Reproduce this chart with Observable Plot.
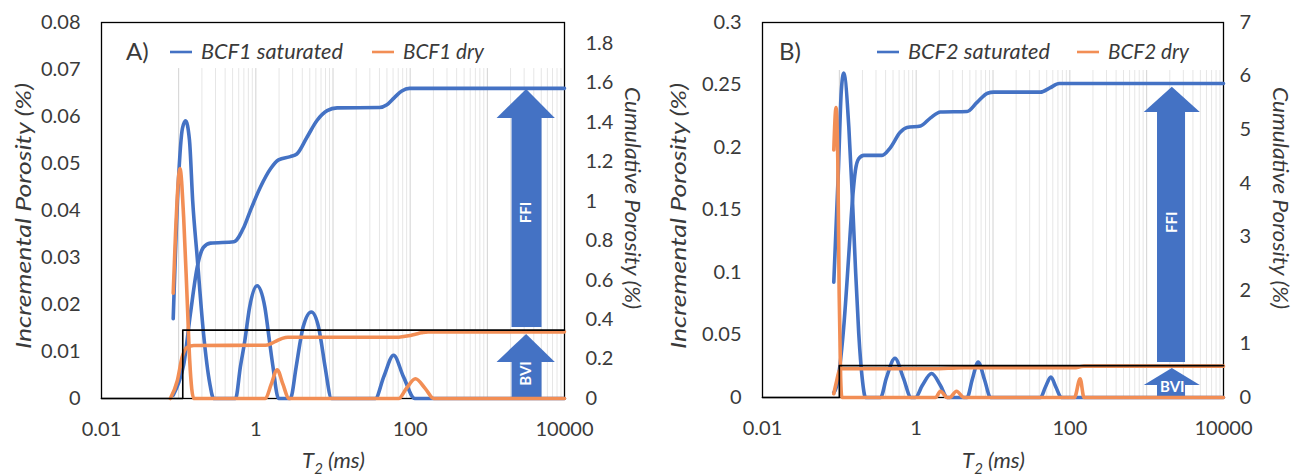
<!DOCTYPE html>
<html><head><meta charset="utf-8">
<script src="https://cdn.jsdelivr.net/npm/d3@7"></script>
<script src="https://cdn.jsdelivr.net/npm/@observablehq/plot@0.6"></script>
<style>
body{margin:0;background:#fff;}
#wrap{display:flex;width:1303px;height:476px;overflow:hidden;}
</style>
</head><body><div id="wrap"></div>
<script>
// ---------- shared ----------
const X_TICKS = [0.01, 1, 100, 10000];
const GRID_DECADES = [0.1, 1, 10, 100, 1000];
const GRID_MULT = [1, 2, 3, 4, 5, 6, 7, 8, 9];
const BLUE = "#4472C4";
const ORANGE = "#F28E55";

// ---------- Panel A (BCF1) ----------
const A_leftTicks  = [0, 0.01, 0.02, 0.03, 0.04, 0.05, 0.06, 0.07, 0.08];
const A_rightTicks = [0, 0.2, 0.4, 0.6, 0.8, 1, 1.2, 1.4, 1.6, 1.8];
const A_satInc_t = [0.085, 0.099, 0.112, 0.123, 0.138, 0.152, 0.174, 0.21, 0.253, 0.284, 0.546, 0.63, 0.72, 0.83, 1.04, 1.31, 1.5, 1.67, 1.97, 2.8, 3.33, 3.78, 4.1, 5.24, 6.5, 7.0, 7.9, 9.6, 35.4, 45.4, 61, 82, 115, 10000];
const A_satInc_v = [0.017, 0.046, 0.0575, 0.0591, 0.055, 0.042, 0.030, 0.0138, 0.0032, 0, 0, 0.0067, 0.0123, 0.0194, 0.024, 0.0194, 0.0123, 0.0067, 0, 0, 0.0067, 0.0123, 0.0152, 0.0184, 0.0152, 0.0123, 0.0067, 0, 0, 0.0046, 0.0092, 0.0046, 0, 0];
const A_dryInc_t = [0.085, 0.091, 0.104, 0.116, 0.129, 0.139, 0.157, 1.33, 1.58, 1.89, 2.25, 2.67, 71, 89, 117, 157, 202, 10000];
const A_dryInc_v = [0.0224, 0.035, 0.0489, 0.0386, 0.0209, 0.0081, 0, 0, 0.003, 0.0061, 0.003, 0, 0, 0.0021, 0.0042, 0.0021, 0, 0];
const A_satCum_t = [0.085, 0.1, 0.116, 0.142, 0.174, 0.21, 0.258, 0.52, 0.70, 0.85, 1.14, 1.55, 1.97, 2.8, 3.4, 4.6, 6.2, 8.4, 11.3, 40, 50, 62, 78, 98, 10000];
const A_satCum_c = [0.017, 0.08, 0.17, 0.43, 0.666, 0.767, 0.788, 0.795, 0.869, 0.953, 1.07, 1.165, 1.21, 1.227, 1.24, 1.325, 1.41, 1.46, 1.474, 1.476, 1.49, 1.525, 1.56, 1.573, 1.573];
const A_dryCum_t = [0.078, 0.096, 0.111, 0.129, 0.157, 1.33, 1.6, 1.89, 2.2, 2.6, 71, 95, 117, 140, 170, 10000];
const A_dryCum_c = [0, 0.09, 0.21, 0.26, 0.269, 0.27, 0.28, 0.294, 0.305, 0.311, 0.311, 0.318, 0.326, 0.333, 0.338, 0.338];
const A_bvi_t = [0.01, 0.113, 0.113, 10000];
const A_bvi_c = [0, 0, 0.347, 0.347];
// arrow annotations (T positions, cumulative-axis values)
const A_arrowT = {shaft: [2090, 5115], head: [1336, 7600], center: 3230};
const A_ffi = {bottom: 0.36, base: 1.42, tip: 1.567, label: 0.943};
const A_bvi = {bottom: 0, base: 0.183, tip: 0.325, label: 0.127};

// ---------- Panel B (BCF2) ----------
const B_leftTicks  = [0, 0.05, 0.1, 0.15, 0.2, 0.25, 0.3];
const B_rightTicks = [0, 1, 2, 3, 4, 5, 6, 7];
const B_satInc_t = [0.0847, 0.097, 0.106, 0.114, 0.133, 0.147, 0.162, 0.179, 0.198, 0.22, 0.344, 0.41, 0.53, 0.68, 0.86, 0.98, 1.2, 1.59, 2.07, 2.54, 4.6, 5.36, 6.41, 7.76, 9.3, 41.5, 48, 56.7, 66, 77.5, 10000];
const B_satInc_v = [0.0922, 0.18, 0.245, 0.2595, 0.216, 0.163, 0.104, 0.051, 0.016, 0, 0, 0.0157, 0.0314, 0.0157, 0, 0, 0.0096, 0.0192, 0.0096, 0, 0, 0.0142, 0.0283, 0.0142, 0, 0, 0.0082, 0.0163, 0.0082, 0, 0];
const B_dryInc_t = [0.0847, 0.0906, 0.0955, 0.0995, 0.104, 0.108, 1.79, 2.07, 2.54, 2.73, 3.35, 4.18, 115, 136, 153, 10000];
const B_dryInc_v = [0.198, 0.232, 0.19, 0.083, 0.016, 0, 0, 0.005, 0, 0, 0.005, 0, 0, 0.015, 0, 0];
const B_satCum_t = [0.0847, 0.0918, 0.114, 0.133, 0.147, 0.162, 0.179, 0.208, 0.36, 0.46, 0.62, 0.76, 1.14, 1.54, 2.07, 4.6, 6.2, 8.5, 10.2, 41.5, 55, 72.8, 10000];
const B_satCum_c = [0.09, 0.2, 1.31, 2.68, 3.62, 4.24, 4.46, 4.52, 4.52, 4.66, 4.95, 5.04, 5.07, 5.22, 5.33, 5.34, 5.51, 5.68, 5.70, 5.70, 5.78, 5.86, 5.86];
const B_dryCum_t = [0.0847, 0.092, 0.1, 0.108, 1.79, 2.6, 4.2, 115, 136, 153, 10000];
const B_dryCum_c = [0.07, 0.3, 0.5, 0.536, 0.536, 0.545, 0.555, 0.555, 0.575, 0.585, 0.585];
const B_bvi_t = [0.01, 0.1, 0.1, 10000];
const B_bvi_c = [0, 0, 0.595, 0.595];
const B_arrowT = {shaft: [1384, 3206], head: [931, 4990], center: 2157};
const B_ffi = {bottom: 0.653, base: 5.32, tip: 5.79, label: 3.27};
const B_bvi = {bottom: 0, base: 0.224, tip: 0.541, label: 0.187};

const FONT = "Lato, 'Open Sans', sans-serif";
const TXT = "#3a3a3a";

function rows(t, v, k = 1) { return t.map((d, i) => ({t: d, v: v[i] * k})); }
function fmt(d) { return String(+d.toFixed(3)); }

function panel(cfg) {
  const k = cfg.leftMax / cfg.rightMax;
  const grid = [];
  for (const dec of GRID_DECADES) for (const m of GRID_MULT) grid.push(m * dec);
  const head = (a, ann) => [
    {t: a.head[0], b: ann.base * k, v: ann.base * k},
    {t: a.center, b: ann.base * k, v: ann.tip * k},
    {t: a.head[1], b: ann.base * k, v: ann.base * k}
  ];
  const arrowMarks = (a, ann) => [
    Plot.rect([{x1: a.shaft[0], x2: a.shaft[1], y1: ann.bottom * k, y2: ann.base * k + 0.0001}],
      {x1: "x1", x2: "x2", y1: "y1", y2: "y2", fill: BLUE}),
    Plot.areaY(head(a, ann), {x: "t", y1: "b", y2: "v", fill: BLUE, curve: "linear"})
  ];
  const labelRow = (ann, txt) => [{t: cfg.arrowT.center, v: ann.label * k, s: txt}];
  const svg = Plot.plot({
    width: cfg.width, height: 476,
    marginLeft: cfg.ml, marginRight: cfg.mr, marginTop: 22, marginBottom: cfg.mb,
    style: {fontFamily: FONT, fontSize: "20px", color: TXT, background: "white", overflow: "visible"},
    x: {type: "log", domain: [0.01, 10000]},
    y: {domain: [0, cfg.leftMax]},
    marks: [
      Plot.ruleX(grid.filter(g => !GRID_DECADES.includes(g)), {x: d => d, y1: () => 0, y2: () => cfg.gridTop, stroke: "#e6e6e6", strokeWidth: 1}),
      Plot.ruleX(grid.filter(g => GRID_DECADES.includes(g)), {x: d => d, y1: () => 0, y2: () => cfg.gridTop, stroke: "#d2d2d2", strokeWidth: 1}),
      Plot.frame({stroke: "black", strokeWidth: 1.3}),
      ...arrowMarks(cfg.arrowT, cfg.ffi),
      ...arrowMarks(cfg.arrowT, cfg.bvi),
      Plot.line(rows(cfg.satInc_t, cfg.satInc_v), {x: "t", y: "v", stroke: BLUE, strokeWidth: 3.6, curve: "monotone-x"}),
      Plot.line(rows(cfg.satCum_t, cfg.satCum_c, k), {x: "t", y: "v", stroke: BLUE, strokeWidth: 3.6, curve: "monotone-x"}),
      Plot.line(rows(cfg.dryInc_t, cfg.dryInc_v), {x: "t", y: "v", stroke: ORANGE, strokeWidth: 3.6, curve: "monotone-x"}),
      Plot.line(rows(cfg.dryCum_t, cfg.dryCum_c, k), {x: "t", y: "v", stroke: ORANGE, strokeWidth: 3.6, curve: "monotone-x"}),
      Plot.line(rows(cfg.bvi_t, cfg.bvi_c, k), {x: "t", y: "v", stroke: "black", strokeWidth: 1.6, curve: "linear"}),
      Plot.axisX({ticks: X_TICKS, tickFormat: d => String(d), tickSize: 0, tickPadding: 23, label: null}),
      Plot.axisY({anchor: "left", ticks: cfg.leftTicks, tickFormat: fmt, tickSize: 0, tickPadding: 21, label: null}),
      Plot.axisY({anchor: "right", ticks: cfg.rightTicks.map(c => c * k), tickFormat: d => fmt(d / k), tickSize: 0, tickPadding: cfg.rpad, label: null}),
      Plot.text(labelRow(cfg.ffi, "FFI"), {x: "t", y: "v", text: "s", rotate: -90, fill: "white", fontWeight: "bold", fontSize: 15, fontFamily: FONT}),
      Plot.text(labelRow(cfg.bvi, "BVI"), {x: "t", y: "v", text: "s", rotate: cfg.bviRotate, fill: "white", fontWeight: "bold", fontSize: 15, fontFamily: FONT})
    ]
  });
  // legend, axis titles
  const s = d3.select(svg);
  const g = s.append("g").attr("font-family", FONT).attr("fill", TXT).attr("text-anchor", "start");
  g.append("text").attr("x", cfg.leg.tag).attr("y", 52).attr("dy", "0.35em").attr("font-size", 24).text(cfg.tag);
  const items = [
    {c: BLUE, x: cfg.leg.sw1, label: cfg.names[0], len: cfg.leg.len1},
    {c: ORANGE, x: cfg.leg.sw2, label: cfg.names[1], len: cfg.leg.len2}
  ];
  for (const it of items) {
    g.append("line").attr("x1", it.x).attr("x2", it.x + 22).attr("y1", 52).attr("y2", 52)
      .attr("stroke", it.c).attr("stroke-width", 2.6);
    g.append("text").attr("x", it.x + 31).attr("y", 52).attr("dy", "0.35em")
      .attr("font-size", 21).attr("font-style", "italic")
      .attr("textLength", it.len).attr("lengthAdjust", "spacingAndGlyphs").text(it.label);
  }
  const title = (x, y, rot, len, label) => g.append("text")
    .attr("transform", `translate(${x},${y}) rotate(${rot})`)
    .attr("text-anchor", "middle").attr("dy", "0.35em")
    .attr("font-size", 22).attr("font-style", "italic")
    .attr("textLength", len).attr("lengthAdjust", "spacingAndGlyphs").text(label);
  title(cfg.lt.x, 216, -90, 266, "Incremental Porosity (%)");
  title(cfg.rt.x, 198, 90, 222, "Cumulative Porosity (%)");
  const xt = g.append("text").attr("x", (cfg.ml + cfg.width - cfg.mr) / 2 + 1).attr("y", 460).attr("dy", "0.35em")
    .attr("text-anchor", "middle").attr("font-size", 22).attr("font-style", "italic");
  xt.append("tspan").text("T");
  xt.append("tspan").attr("font-size", 15).attr("dy", 6).text("2");
  xt.append("tspan").attr("dy", -6).text(" (ms)");
  return svg;
}

const wrap = document.getElementById("wrap");
wrap.appendChild(panel({
  width: 651, ml: 101, mr: 87, mb: 78, leftMax: 0.08, rightMax: 1.907, gridTop: 0.0702,
  leftTicks: A_leftTicks, rightTicks: A_rightTicks, rpad: 21, lt: {x: 23}, rt: {x: 633},
  satInc_t: A_satInc_t, satInc_v: A_satInc_v, dryInc_t: A_dryInc_t, dryInc_v: A_dryInc_v,
  satCum_t: A_satCum_t, satCum_c: A_satCum_c, dryCum_t: A_dryCum_t, dryCum_c: A_dryCum_c,
  bvi_t: A_bvi_t, bvi_c: A_bvi_c, arrowT: A_arrowT, ffi: A_ffi, bvi: A_bvi, bviRotate: -90,
  tag: "A)", names: ["BCF1 saturated", "BCF1 dry"], leg: {tag: 126, sw1: 170, sw2: 372, len1: 142, len2: 81}
}));
wrap.appendChild(panel({
  width: 652, ml: 111, mr: 80, mb: 79, leftMax: 0.3, rightMax: 7, gridTop: 0.2616,
  leftTicks: B_leftTicks, rightTicks: B_rightTicks, rpad: 16, lt: {x: 27}, rt: {x: 630},
  satInc_t: B_satInc_t, satInc_v: B_satInc_v, dryInc_t: B_dryInc_t, dryInc_v: B_dryInc_v,
  satCum_t: B_satCum_t, satCum_c: B_satCum_c, dryCum_t: B_dryCum_t, dryCum_c: B_dryCum_c,
  bvi_t: B_bvi_t, bvi_c: B_bvi_c, arrowT: B_arrowT, ffi: B_ffi, bvi: B_bvi, bviRotate: 0,
  tag: "B)", names: ["BCF2 saturated", "BCF2 dry"], leg: {tag: 128, sw1: 226, sw2: 426, len1: 142, len2: 81}
}));
</script>
</body></html>
